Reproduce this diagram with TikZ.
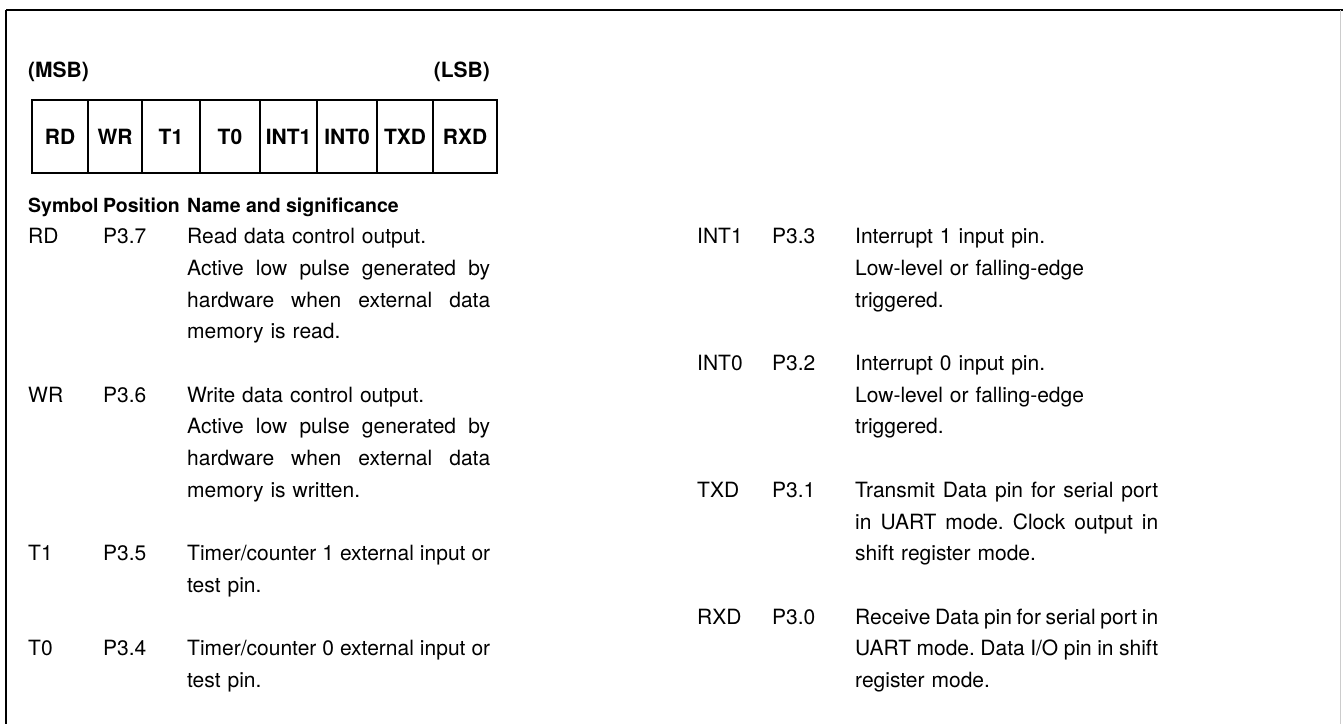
\documentclass[tikz,border=0pt]{standalone}
\usepackage{fontspec}
\setmainfont{TeX Gyre Heros}
\usetikzlibrary{positioning}
\frenchspacing

\newlength{\descw}
\setlength{\descw}{303pt}
% one justified line of a description
\newcommand{\fullline}[1]{\leavevmode\hbox to \descw{\spaceskip=\fontdimen2\font plus 1fil minus \fontdimen4\font\relax #1}}

\tikzset{
  bitcell/.style={draw, line width=1.4pt, inner sep=0pt, outer sep=0pt,
    minimum height=73pt, font=\bfseries\fontsize{21pt}{25pt}\selectfont},
  bitnote/.style={inner sep=0pt, font=\bfseries\fontsize{21pt}{25pt}\selectfont},
  headtext/.style={inner sep=0pt, anchor=base west,
    font=\bfseries\fontsize{19.5pt}{24pt}\selectfont},
  bodytext/.style={inner sep=0pt, anchor=base west,
    font=\fontsize{21pt}{31.7pt}\selectfont},
  desctext/.style={bodytext, text width=\descw, align=left},
}

\begin{document}
\begin{tikzpicture}[x=1pt, y=-1pt]
  \useasboundingbox (0,0) rectangle (1343,724);

  % frame
  \draw[line width=2.4pt] (6,10) -- (1343,10);
  \draw[line width=1.3pt] (6,10) -- (6,724);
  \draw[line width=0.6pt, gray!40] (1340,10) -- (1340,724);

  % register P3
  \node[bitnote, anchor=west] (msb) at (28,72) {(MSB)};
  \node[bitnote, anchor=east] (lsb) at (490,72) {(LSB)};

  \node[bitcell, minimum width=56pt, anchor=north west] (rd) at (32,100) {RD};
  \node[bitcell, minimum width=54pt, right=0pt of rd] (wr) {WR};
  \node[bitcell, minimum width=58pt, right=0pt of wr] (t1) {T1};
  \node[bitcell, minimum width=60pt, right=0pt of t1] (t0) {T0};
  \node[bitcell, minimum width=57pt, right=0pt of t0] (int1) {INT1};
  \node[bitcell, minimum width=60pt, right=0pt of int1] (int0) {INT0};
  \node[bitcell, minimum width=56pt, right=0pt of int0] (txd) {TXD};
  \node[bitcell, minimum width=64pt, right=0pt of txd] (rxd) {RXD};

  % table head
  \node[headtext] (hsym) at (28,212) {Symbol};
  \node[headtext] (hpos) at (103,212) {Position};
  \node[headtext] (hname) at (187,212) {Name and significance};

  % left column
  \node[bodytext] (symrd) at (28,243.7) {RD};
  \node[bodytext] (posrd) at (103,243.7) {P3.7};
  \node[desctext] (descrd) at (187,243.7) {Read data control output.\\
    \fullline{Active low pulse generated by}\\
    \fullline{hardware when external data}\\
    memory is read.};

  \node[bodytext] (symwr) at (28,402.2) {WR};
  \node[bodytext] (poswr) at (103,402.2) {P3.6};
  \node[desctext] (descwr) at (187,402.2) {Write data control output.\\
    \fullline{Active low pulse generated by}\\
    \fullline{hardware when external data}\\
    memory is written.};

  \node[bodytext] (symta) at (28,560.7) {T1};
  \node[bodytext] (posta) at (103,560.7) {P3.5};
  \node[desctext] (descta) at (187,560.7) {\fullline{Timer/counter 1 external input or}\\
    test pin.};

  \node[bodytext] (symtb) at (28,655.8) {T0};
  \node[bodytext] (postb) at (103,655.8) {P3.4};
  \node[desctext] (desctb) at (187,655.8) {\fullline{Timer/counter 0 external input or}\\
    test pin.};

  % right column
  \node[bodytext] (symia) at (697,243.7) {INT1};
  \node[bodytext] (posia) at (772,243.7) {P3.3};
  \node[desctext] (descia) at (855,243.7) {Interrupt 1 input pin.\\
    Low-level or falling-edge\\
    triggered.};

  \node[bodytext] (symib) at (697,370.5) {INT0};
  \node[bodytext] (posib) at (772,370.5) {P3.2};
  \node[desctext] (descib) at (855,370.5) {Interrupt 0 input pin.\\
    Low-level or falling-edge\\
    triggered.};

  \node[bodytext] (symtx) at (697,497.3) {TXD};
  \node[bodytext] (postx) at (772,497.3) {P3.1};
  \node[desctext] (desctx) at (855,497.3) {\fullline{Transmit Data pin for serial port}\\
    \fullline{in UART mode. Clock output in}\\
    shift register mode.};

  \node[bodytext] (symrx) at (697,624.1) {RXD};
  \node[bodytext] (posrx) at (772,624.1) {P3.0};
  \node[desctext] (descrx) at (855,624.1) {\fullline{Receive Data pin for serial port in}\\
    \fullline{UART mode. Data I/O pin in shift}\\
    register mode.};
\end{tikzpicture}
\end{document}
